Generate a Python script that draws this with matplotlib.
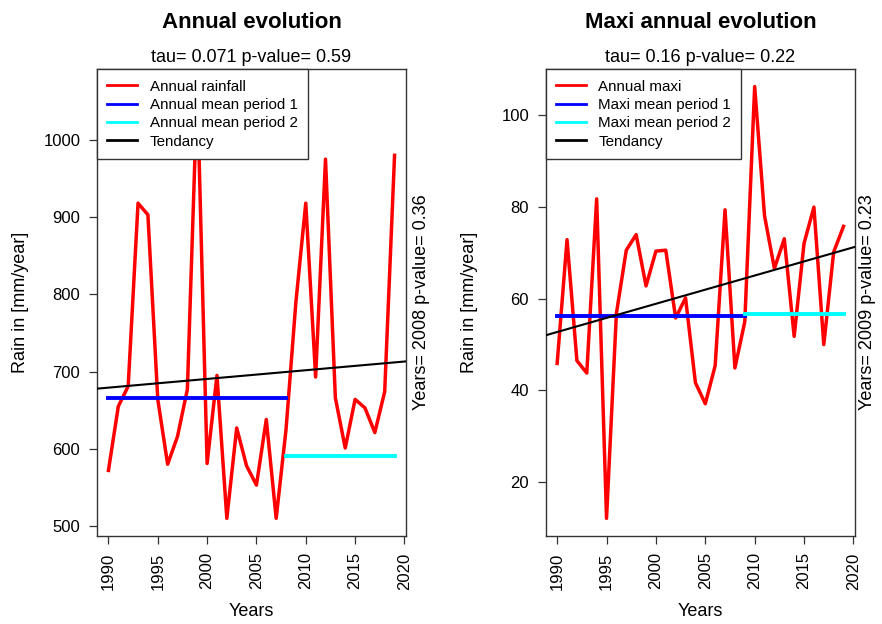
import matplotlib
matplotlib.use("Agg")
import matplotlib.pyplot as plt
import numpy as np

plt.rcParams['font.family'] = ['Liberation Sans', 'DejaVu Sans']

years = list(range(1990, 2020))
annual_rain = [572, 655, 681, 918, 903, 664, 580, 616, 677, 1069,
               581, 695, 510, 627, 578, 553, 638, 510, 625, 790,
               918, 693, 975, 666, 601, 664, 653, 621, 674, 980]
annual_maxi = [45.9, 72.9, 46.5, 43.8, 81.8, 12.1, 56.8, 70.6, 74.0, 62.8,
               70.4, 70.6, 55.8, 60.2, 41.7, 37.1, 45.4, 79.4, 44.9, 55.0,
               106.3, 78.1, 66.6, 73.1, 51.8, 72.1, 80.0, 50.0, 70.2, 75.8]

# break years and period means
rain_break = 2008
rain_mean1, rain_mean2 = 665.4, 590.4
maxi_break = 2009
maxi_mean1, maxi_mean2 = 56.3, 56.6

# trend lines (value at 1990, slope per year)
rain_trend = (679.2, 1.127)
maxi_trend = (52.75, 0.616)

x_ticks = [1990, 1995, 2000, 2005, 2010, 2015, 2020]
rain_yticks = [500, 600, 700, 800, 900, 1000]
maxi_yticks = [20, 40, 60, 80, 100]

W, H = 882, 624
fig = plt.figure(figsize=(W / 100, H / 100), dpi=100)


def fx(px):
    return px / W


def fy(py):
    return 1 - py / H


side_texts = {'Annual evolution': 'Years= 2008 p-value= 0.36',
              'Maxi annual evolution': 'Years= 2009 p-value= 0.23'}


def panel(rect, values, brk, m1, m2, trend, yticks, title, sub, side, labels):
    ax = fig.add_axes(rect)
    x = np.array(years)
    ax.plot(x, values, color='red', lw=2.5, zorder=3)
    ax.plot([x[0], brk], [m1, m1], color='blue', lw=2.8, zorder=4)
    ax.plot([brk, x[-1]], [m2, m2], color='cyan', lw=2.8, zorder=4)
    ax.axline((1990, trend[0]), slope=trend[1], color='black', lw=1.5, zorder=5)
    r = max(values) - min(values)
    ax.set_ylim(min(values) - 0.04 * r, max(values) + 0.04 * r)
    xr = x[-1] - x[0]
    ax.set_xlim(x[0] - 0.04 * xr, x[-1] + 0.04 * xr)
    ax.set_xticks(x_ticks)
    ax.set_xticklabels([str(t) for t in x_ticks], rotation=90, fontsize=12)
    ax.set_yticks(yticks)
    ax.set_yticklabels([str(t) for t in yticks], fontsize=12)
    ax.tick_params(direction='out', length=6, width=0.9, pad=6, color='#333333')
    for s in ax.spines.values():
        s.set_linewidth(1.0)
        s.set_color('#333333')
    leg = ax.legend(labels, loc='upper left', borderaxespad=0, fancybox=False,
                    edgecolor='#333333', framealpha=1, fontsize=10.9,
                    handlelength=1.95, handletextpad=0.85, borderpad=0.68,
                    labelspacing=0.29)
    leg.get_frame().set_linewidth(1.0)
    for ln in leg.get_lines():
        ln.set_linewidth(2.0)
    leg.set_zorder(10)
    bb = ax.get_position()
    cx = (bb.x0 + bb.x1) / 2
    fig.text(cx, fy(22), title, ha='center', va='center', fontsize=16,
             fontweight='bold')
    fig.text(cx, fy(58), sub, ha='center', va='center', fontsize=13)
    fig.text(cx, fy(612), 'Years', ha='center', va='center', fontsize=13)
    fig.text(bb.x1 + fx(side), (bb.y0 + bb.y1) / 2, side_texts[title],
             rotation=90, ha='center', va='center', fontsize=13)
    return ax


axL = panel([fx(97), fy(535.6), fx(406 - 97), (535.6 - 69.3) / H],
            annual_rain, rain_break, rain_mean1, rain_mean2, rain_trend,
            rain_yticks, 'Annual evolution', 'tau= 0.071 p-value= 0.59', 15,
            ['Annual rainfall', 'Annual mean period 1', 'Annual mean period 2',
             'Tendancy'])
axR = panel([fx(545.7), fy(535.6), fx(855 - 545.7), (535.6 - 69.3) / H],
            annual_maxi, maxi_break, maxi_mean1, maxi_mean2, maxi_trend,
            maxi_yticks, 'Maxi annual evolution', 'tau= 0.16 p-value= 0.22', 13,
            ['Annual maxi', 'Maxi mean period 1', 'Maxi mean period 2',
             'Tendancy'])

fig.text(fx(21), fy(302), 'Rain in [mm/year]', rotation=90, ha='center',
         va='center', fontsize=13)
fig.text(fx(469), fy(302), 'Rain in [mm/year]', rotation=90, ha='center',
         va='center', fontsize=13)

fig.savefig('out.png', dpi=100)
